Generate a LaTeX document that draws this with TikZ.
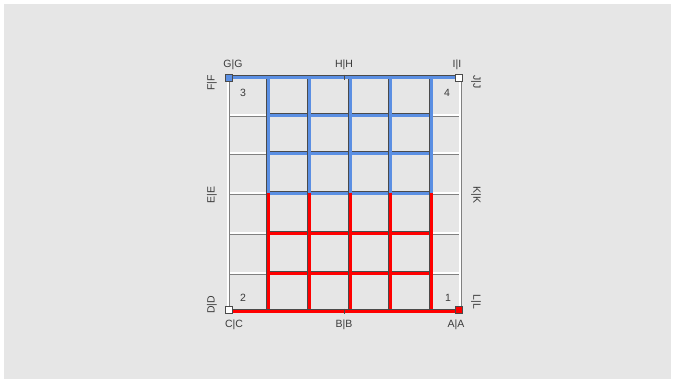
\documentclass[tikz,border=0pt]{standalone}
\usepackage{fontspec}
\setmainfont{Liberation Sans}
\usepackage{xcolor}
\definecolor{bggray}{HTML}{E6E6E6}
\definecolor{topblue}{HTML}{5B8FE3}
\definecolor{lowred}{HTML}{FF0000}
\definecolor{edgegray}{HTML}{4A4A4A}
\definecolor{txtgray}{HTML}{3A3A3A}
\tikzset{
  thinbar/.style={draw=black!50, double=white, double distance=1.6pt, line width=0.7pt},
  bluebar/.style={draw=edgegray, double=topblue, double distance=3pt, line width=0.8pt},
  redbar/.style={draw=edgegray, double=lowred, double distance=3pt, line width=0.8pt},
  lbl/.style={font=\fontsize{10.5}{12}\selectfont, text=txtgray, inner sep=0pt},
  cornerbox/.style={draw=edgegray, line width=0.6pt, minimum size=7.5pt, inner sep=0pt}
}
\begin{document}
\begin{tikzpicture}[x=1pt, y=-1pt]
  \useasboundingbox (0,0) rectangle (675,383);
  \fill[white] (0,0) rectangle (675,383);
  \fill[bggray] (4,4) rectangle (671,379);
  % thin bars
  \foreach \y in {115,153,193,233,273}
    \draw[thinbar] (228,\y) -- (460,\y);
  \draw[thinbar] (228,77) -- (228,311);
  \draw[thinbar] (460,77) -- (460,311);
  % upper part
  \foreach \y in {115,153,193}
    \draw[bluebar] (268,\y) -- (431,\y);
  \foreach \x in {268,309,350,390,431}
    \draw[bluebar] (\x,77) -- (\x,193);
  \draw[bluebar] (228,77) -- (460,77);
  % lower part
  \foreach \y in {233,273}
    \draw[redbar] (268,\y) -- (431,\y);
  \foreach \x in {268,309,350,390,431}
    \draw[redbar] (\x,193) -- (\x,311);
  \draw[redbar] (228,311) -- (460,311);
  % midpoint ticks
  \draw[edgegray, line width=0.7pt] (344,74.5) -- (344,79.5);
  \draw[edgegray, line width=0.7pt] (344,308.5) -- (344,313.5);
  % corners
  \node[cornerbox, fill=topblue] (c3) at (229,78) {};
  \node[cornerbox, fill=white] (c4) at (459,78) {};
  \node[cornerbox, fill=white] (c2) at (229,310) {};
  \node[cornerbox, fill=lowred] (c1) at (459,310) {};
  % corner numbers
  \node[lbl] (n3) at (243,93) {3};
  \node[lbl] (n4) at (447,93) {4};
  \node[lbl] (n2) at (243,298) {2};
  \node[lbl] (n1) at (448,298) {1};
  % edge labels
  \node[lbl] (gg) at (233,65) {G|G};
  \node[lbl] (hh) at (344,65) {H|H};
  \node[lbl] (ii) at (457,65) {I|I};
  \node[lbl] (cc) at (234,325) {C|C};
  \node[lbl] (bb) at (344,325) {B|B};
  \node[lbl] (aa) at (456,325) {A|A};
  \node[lbl, rotate=90] (ff) at (212,83) {F|F};
  \node[lbl, rotate=90] (ee) at (212,195) {E|E};
  \node[lbl, rotate=90] (dd) at (212,305) {D|D};
  \node[lbl, rotate=-90] (jj) at (476,82) {J|J};
  \node[lbl, rotate=-90] (kk) at (476,195) {K|K};
  \node[lbl, rotate=-90] (ll) at (476,302) {L|L};
\end{tikzpicture}
\end{document}
